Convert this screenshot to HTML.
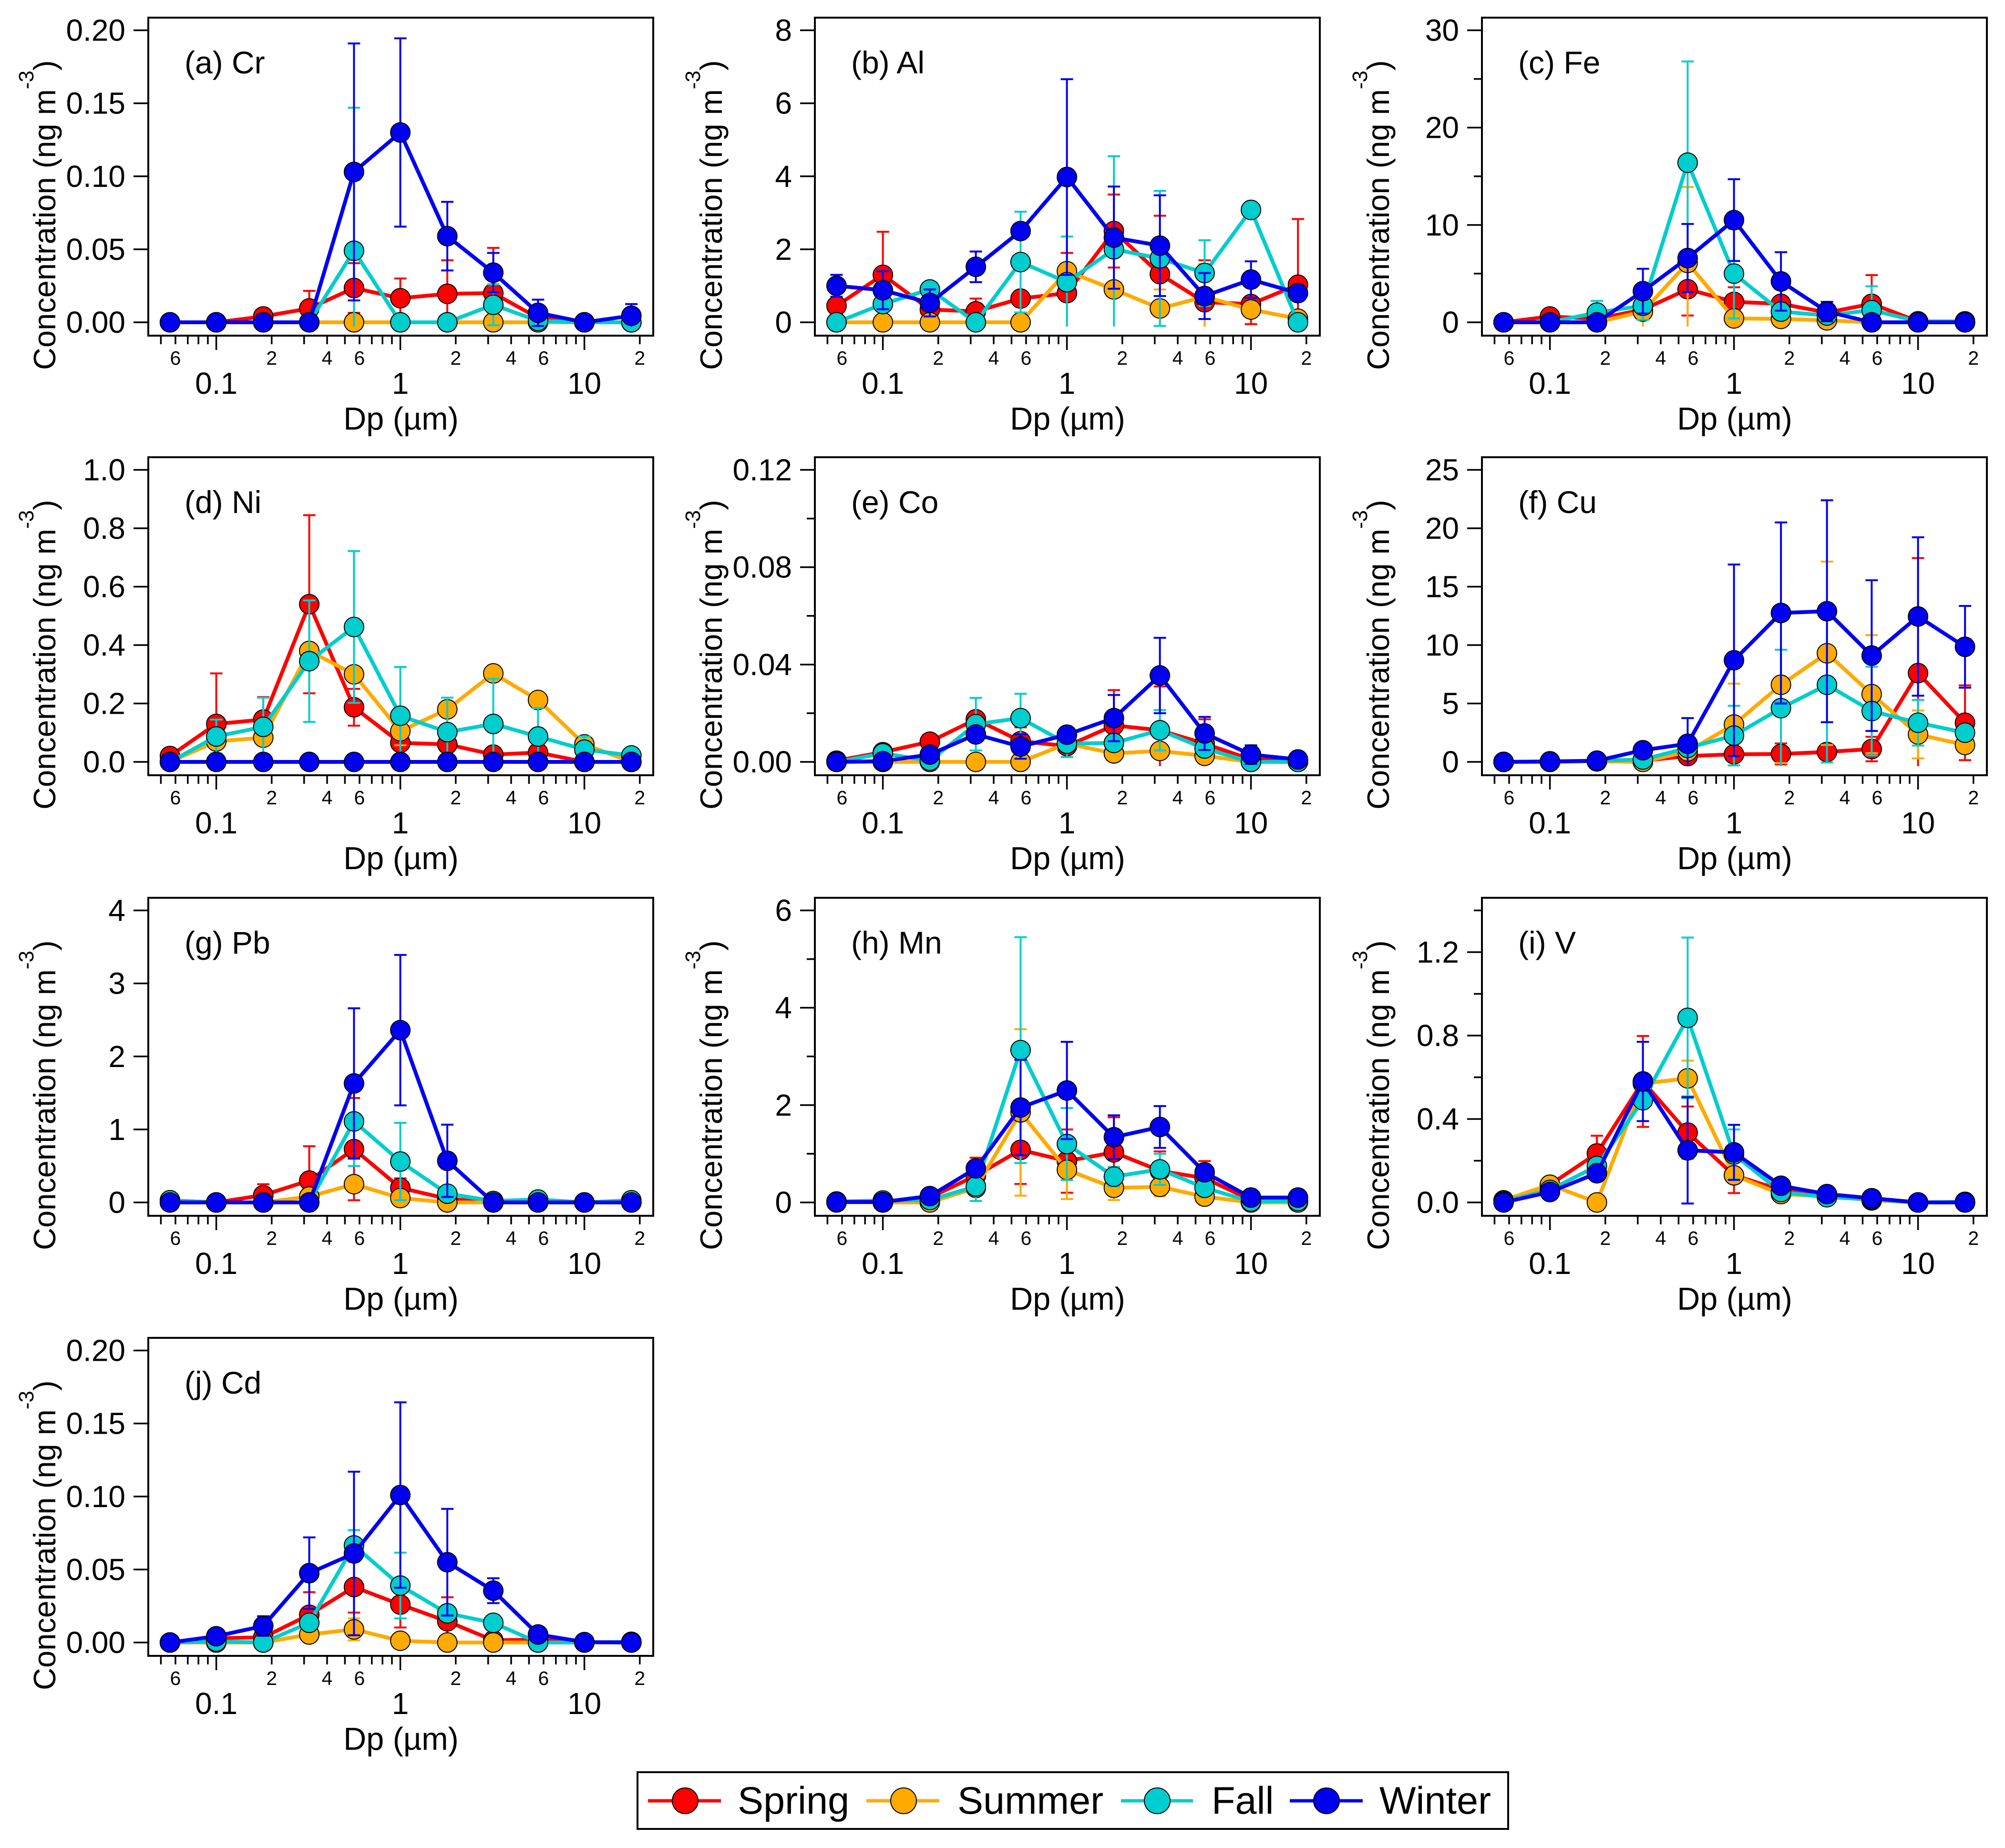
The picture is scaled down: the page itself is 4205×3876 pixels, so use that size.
<!DOCTYPE html>
<html lang="en">
<head>
<meta charset="utf-8">
<title>Size distribution of trace metal concentrations by season</title>
<style>
html,body{margin:0;padding:0;background:#fff;}
svg{display:block;font-family:"Liberation Sans",Arial,sans-serif;}
.ax{font-size:66.5px;fill:#000;}
.pl{font-size:66px;fill:#000;}
.yt{font-size:65px;fill:#000;}
</style>
</head>
<body>
<svg id="chart" width="4205" height="3876" viewBox="0 0 4205 3876" xmlns="http://www.w3.org/2000/svg">
<rect x="0" y="0" width="4205" height="3876" fill="#fff"/>

<g id="panel-cr" transform="translate(311 37)">
<rect x="0" y="0" width="1059" height="667" fill="#fff" stroke="#000" stroke-width="4"/>
<text class="pl" x="76" y="117">(a) Cr</text>
<text class="ax" x="530" y="864" text-anchor="middle">Dp (µm)</text>
<text class="yt" x="-195" y="739" transform="rotate(-90 -195 739)">Concentration (ng m<tspan dy="-46" font-size="44">-3</tspan><tspan dy="46">)</tspan></text>
</g>
<g id="panel-al" transform="translate(1709 37)">
<rect x="0" y="0" width="1059" height="667" fill="#fff" stroke="#000" stroke-width="4"/>
<text class="pl" x="76" y="117">(b) Al</text>
<text class="ax" x="530" y="864" text-anchor="middle">Dp (µm)</text>
<text class="yt" x="-195" y="739" transform="rotate(-90 -195 739)">Concentration (ng m<tspan dy="-46" font-size="44">-3</tspan><tspan dy="46">)</tspan></text>
</g>
<g id="panel-fe" transform="translate(3108 37)">
<rect x="0" y="0" width="1059" height="667" fill="#fff" stroke="#000" stroke-width="4"/>
<text class="pl" x="76" y="117">(c) Fe</text>
<text class="ax" x="530" y="864" text-anchor="middle">Dp (µm)</text>
<text class="yt" x="-195" y="739" transform="rotate(-90 -195 739)">Concentration (ng m<tspan dy="-46" font-size="44">-3</tspan><tspan dy="46">)</tspan></text>
</g>
<g id="panel-ni" transform="translate(311 959)">
<rect x="0" y="0" width="1059" height="667" fill="#fff" stroke="#000" stroke-width="4"/>
<text class="pl" x="76" y="117">(d) Ni</text>
<text class="ax" x="530" y="864" text-anchor="middle">Dp (µm)</text>
<text class="yt" x="-195" y="739" transform="rotate(-90 -195 739)">Concentration (ng m<tspan dy="-46" font-size="44">-3</tspan><tspan dy="46">)</tspan></text>
</g>
<g id="panel-co" transform="translate(1709 959)">
<rect x="0" y="0" width="1059" height="667" fill="#fff" stroke="#000" stroke-width="4"/>
<text class="pl" x="76" y="117">(e) Co</text>
<text class="ax" x="530" y="864" text-anchor="middle">Dp (µm)</text>
<text class="yt" x="-195" y="739" transform="rotate(-90 -195 739)">Concentration (ng m<tspan dy="-46" font-size="44">-3</tspan><tspan dy="46">)</tspan></text>
</g>
<g id="panel-cu" transform="translate(3108 959)">
<rect x="0" y="0" width="1059" height="667" fill="#fff" stroke="#000" stroke-width="4"/>
<text class="pl" x="76" y="117">(f) Cu</text>
<text class="ax" x="530" y="864" text-anchor="middle">Dp (µm)</text>
<text class="yt" x="-195" y="739" transform="rotate(-90 -195 739)">Concentration (ng m<tspan dy="-46" font-size="44">-3</tspan><tspan dy="46">)</tspan></text>
</g>
<g id="panel-pb" transform="translate(311 1883)">
<rect x="0" y="0" width="1059" height="667" fill="#fff" stroke="#000" stroke-width="4"/>
<text class="pl" x="76" y="117">(g) Pb</text>
<text class="ax" x="530" y="864" text-anchor="middle">Dp (µm)</text>
<text class="yt" x="-195" y="739" transform="rotate(-90 -195 739)">Concentration (ng m<tspan dy="-46" font-size="44">-3</tspan><tspan dy="46">)</tspan></text>
</g>
<g id="panel-mn" transform="translate(1709 1883)">
<rect x="0" y="0" width="1059" height="667" fill="#fff" stroke="#000" stroke-width="4"/>
<text class="pl" x="76" y="117">(h) Mn</text>
<text class="ax" x="530" y="864" text-anchor="middle">Dp (µm)</text>
<text class="yt" x="-195" y="739" transform="rotate(-90 -195 739)">Concentration (ng m<tspan dy="-46" font-size="44">-3</tspan><tspan dy="46">)</tspan></text>
</g>
<g id="panel-v" transform="translate(3108 1883)">
<rect x="0" y="0" width="1059" height="667" fill="#fff" stroke="#000" stroke-width="4"/>
<text class="pl" x="76" y="117">(i) V</text>
<text class="ax" x="530" y="864" text-anchor="middle">Dp (µm)</text>
<text class="yt" x="-195" y="739" transform="rotate(-90 -195 739)">Concentration (ng m<tspan dy="-46" font-size="44">-3</tspan><tspan dy="46">)</tspan></text>
</g>
<g id="panel-cd" transform="translate(311 2806)">
<rect x="0" y="0" width="1059" height="667" fill="#fff" stroke="#000" stroke-width="4"/>
<text class="pl" x="76" y="117">(j) Cd</text>
<text class="ax" x="530" y="864" text-anchor="middle">Dp (µm)</text>
<text class="yt" x="-195" y="739" transform="rotate(-90 -195 739)">Concentration (ng m<tspan dy="-46" font-size="44">-3</tspan><tspan dy="46">)</tspan></text>
</g>

<g>
<rect x="1337" y="3717" width="1826" height="119" fill="#fff" stroke="#000" stroke-width="4"/>
<g>
<line x1="1359" y1="3777" x2="1512" y2="3777" stroke="#ff0000" stroke-width="7"/>
<circle cx="1437" cy="3777" r="27" fill="#ff0000" stroke="#000" stroke-width="2"/>
<text x="1547" y="3804" font-size="81" fill="#000">Spring</text>
</g>
<g>
<line x1="1817" y1="3777" x2="1970" y2="3777" stroke="#ffaa00" stroke-width="7"/>
<circle cx="1895" cy="3777" r="27" fill="#ffaa00" stroke="#000" stroke-width="2"/>
<text x="2008" y="3804" font-size="81" fill="#000">Summer</text>
</g>
<g>
<line x1="2351" y1="3777" x2="2502" y2="3777" stroke="#00cdcd" stroke-width="7"/>
<circle cx="2427" cy="3777" r="27" fill="#00cdcd" stroke="#000" stroke-width="2"/>
<text x="2541" y="3804" font-size="81" fill="#000">Fall</text>
</g>
<g>
<line x1="2705" y1="3777" x2="2858" y2="3777" stroke="#0000f0" stroke-width="7"/>
<circle cx="2782" cy="3777" r="27" fill="#0000f0" stroke="#000" stroke-width="2"/>
<text x="2893" y="3804" font-size="81" fill="#000">Winter</text>
</g>
</g>
</svg>

<script>
// Shared x categories (aerodynamic cut sizes, µm)
const dpCategories = [0.056, 0.1, 0.18, 0.32, 0.56, 1, 1.8, 3.2, 5.6, 10, 18];
const xMinorTicks = [0.05,0.06,0.07,0.08,0.09,0.2,0.3,0.4,0.5,0.6,0.7,0.8,0.9,2,3,4,5,6,7,8,9,20];
const xMajorTicks = [0.1, 1, 10];
const xMajorLabels = ['0.1', '1', '10'];
const xSmallLabelTicks = [0.06, 0.2, 0.4, 0.6, 2, 4, 6, 20];
const xSmallLabels = ['6', '2', '4', '6', '2', '4', '6', '2'];

// (a) Cr
const crTickLabels = ['0.00','0.05','0.10','0.15','0.20'];
const crMinor = [];
const crSpring = [0,0,0.004,0.0095,0.0235,0.0165,0.0195,0.02,0.003,0,0];
const crSpringErr = [0,0,0,0.012,0.017,0.0135,0.023,0.031,0,0,0];
const crSummer = [0,0,0,0,0,0,0,0,0,0,0];
const crSummerErr = [0,0,0,0,0,0,0,0,0,0,0];
const crFall = [0,0,0,0,0.049,0,0,0.012,0.001,0,0];
const crFallErr = [0,0,0,0,0.098,0,0,0.014,0,0,0];
const crWinter = [0,0,0,0,0.103,0.13,0.059,0.034,0.0065,0,0.0045];
const crWinterErr = [0,0,0,0,0.088,0.0645,0.0235,0.0135,0.009,0,0.008];

// (b) Al
const alTickLabels = ['0','2','4','6','8'];
const alMinor = [];
const alSpring = [0.45,1.3,0.35,0.3,0.65,0.8,2.5,1.32,0.55,0.5,1.03];
const alSpringErr = [0,1.18,0.75,0.35,0,1.1,1.0,1.6,1.15,0.55,1.8];
const alSummer = [0,0,0,0,0,1.4,0.9,0.38,0.7,0.35,0.1];
const alSummerErr = [0,0,0,0,0,0,0,0.52,0.9,0,0];
const alFall = [0,0.5,0.9,0,1.65,1.1,2,1.75,1.35,3.08,0];
const alFallErr = [0,0,0.1,0,1.38,1.25,2.55,1.85,0.9,0,0];
const alWinter = [1,0.88,0.53,1.52,2.5,3.98,2.32,2.1,0.72,1.17,0.8];
const alWinterErr = [0.3,0.52,0.37,0.42,0,2.68,1.4,1.38,0.63,0.5,0];

// (c) Fe
const feTickLabels = ['0','10','20','30'];
const feMinor = [5,15,25];
const feSpring = [0,0.6,0.35,1.3,3.4,2.1,1.9,1,1.9,0.1,0];
const feSpringErr = [0,0.4,0,0,2.7,1.5,0,0,2.95,0,0];
const feSummer = [0,0,0,1.1,6.1,0.4,0.35,0.2,0,0,0];
const feSummerErr = [0,0,0,1.6,7.8,0,0,0,0,0,0];
const feFall = [0,0,1,1.7,16.4,5,1.1,0.7,1.25,0.1,0.1];
const feFallErr = [0,0,1.2,1.45,10.4,4.6,0,0,2.45,0,0];
const feWinter = [0,0,0,3.2,6.6,10.5,4.2,1.1,0,0,0];
const feWinterErr = [0,0,0,2.3,3.5,4.2,3,1,0,0,0];

// (d) Ni
const niTickLabels = ['0.0','0.2','0.4','0.6','0.8','1.0'];
const niMinor = [];
const niSpring = [0.02,0.13,0.145,0.54,0.187,0.065,0.06,0.025,0.032,0,0];
const niSpringErr = [0,0.173,0.077,0.305,0.063,0,0,0,0,0,0];
const niSummer = [0,0.07,0.083,0.38,0.3,0.105,0.18,0.303,0.212,0.06,0];
const niSummerErr = [0,0,0,0,0,0.048,0,0,0,0,0];
const niFall = [0,0.087,0.12,0.345,0.462,0.158,0.102,0.13,0.087,0.042,0.022];
const niFallErr = [0,0.058,0.1,0.208,0.26,0.167,0.118,0.155,0.097,0.045,0];
const niWinter = [0,0,0,0,0,0,0,0,0,0,0];
const niWinterErr = [0,0,0,0,0,0,0,0,0,0,0];

// (e) Co
const coTickLabels = ['0.00','0.04','0.08','0.12'];
const coMinor = [0.02,0.06,0.1];
const coSpring = [0.0005,0.004,0.0083,0.0175,0.0085,0.0065,0.015,0.013,0.0075,0.001,0.0005];
const coSpringErr = [0,0,0,0,0.0057,0.0045,0.0145,0.018,0.01,0,0];
const coSummer = [0,0,0,0,0,0.0075,0.0035,0.0045,0.0025,0,0];
const coSummerErr = [0,0,0,0,0,0,0,0,0,0,0];
const coFall = [0,0.0035,0.0005,0.0155,0.018,0.0075,0.0078,0.013,0.0055,0,0];
const coFallErr = [0,0,0,0.0108,0.01,0.0055,0,0.0083,0,0,0];
const coWinter = [0,0.0003,0.003,0.0113,0.0063,0.0112,0.018,0.0355,0.0117,0.003,0.001];
const coWinterErr = [0,0,0,0,0.005,0,0.0095,0.0155,0.0068,0.0038,0];

// (f) Cu
const cuTickLabels = ['0','5','10','15','20','25'];
const cuMinor = [];
const cuSpring = [0,0,0.05,0.1,0.5,0.65,0.68,0.85,1.1,7.6,3.35];
const cuSpringErr = [0,0,0,0,0,0,0.9,0.65,1.05,9.85,3.2];
const cuSummer = [0,0,0.05,0,0.9,3.2,6.6,9.3,5.8,2.35,1.45];
const cuSummerErr = [0,0,0,0,0,3.5,6.7,7.85,5.05,2.05,0];
const cuFall = [0,0.05,0.1,0.2,1.2,2.25,4.6,6.6,4.35,3.35,2.5];
const cuFallErr = [0,0,0,0,0,2.55,5,6.65,3.8,1.95,0];
const cuWinter = [0,0.03,0.1,1,1.55,8.7,12.75,12.9,9.1,12.45,9.85];
const cuWinterErr = [0,0,0,0,2.2,8.2,7.75,9.5,6.45,6.78,3.5];

// (g) Pb
const pbTickLabels = ['0','1','2','3','4'];
const pbMinor = [];
const pbSpring = [0.03,0,0.1,0.3,0.73,0.2,0.05,0,0,0,0];
const pbSpringErr = [0,0,0.15,0.47,0.7,0.13,0,0,0,0,0];
const pbSummer = [0,0,0,0.08,0.25,0.06,0,0,0,0,0];
const pbSummerErr = [0,0,0,0,0,0,0,0,0,0,0];
const pbFall = [0.03,0,0,0,1.11,0.56,0.12,0.02,0.04,0,0.03];
const pbFallErr = [0,0,0,0,0.61,0.53,0,0,0,0,0];
const pbWinter = [0,0,0,0,1.63,2.36,0.57,0,0,0,0];
const pbWinterErr = [0,0,0,0,1.03,1.03,0.495,0,0,0,0];

// (h) Mn
const mnTickLabels = ['0','2','4','6'];
const mnMinor = [1,3,5];
const mnSpring = [0.01,0,0.1,0.55,1.08,0.85,1.03,0.65,0.5,0.05,0.03];
const mnSpringErr = [0,0,0,0.37,0.7,0.65,0.72,0.4,0.35,0,0];
const mnSummer = [0,0,0,0.3,1.85,0.67,0.3,0.32,0.12,0,0];
const mnSummerErr = [0,0,0,0,1.71,0.6,0.25,0.19,0,0,0];
const mnFall = [0.02,0.04,0.05,0.33,3.13,1.2,0.53,0.68,0.3,0.02,0.03];
const mnFallErr = [0,0,0,0.3,2.32,0.74,0.2,0.32,0,0,0];
const mnWinter = [0.01,0.01,0.13,0.7,1.95,2.3,1.34,1.55,0.62,0.1,0.1];
const mnWinterErr = [0,0,0,0,0.98,1,0.45,0.43,0,0,0];

// (i) V
const vTickLabels = ['0.0','0.4','0.8','1.2'];
const vMinor = [0.2,0.6,1.0,1.4];
const vSpring = [0.01,0.085,0.235,0.58,0.335,0.13,0.06,0.03,0.02,0,0];
const vSpringErr = [0,0,0.085,0.218,0.125,0.085,0,0,0,0,0];
const vSummer = [0.01,0.085,0,0.57,0.595,0.13,0.04,0.03,0.01,0,0];
const vSummerErr = [0,0,0,0,0.085,0,0,0,0,0,0];
const vFall = [0.005,0.06,0.175,0.49,0.885,0.23,0.05,0.025,0.015,0,0.003];
const vFallErr = [0,0,0,0,0.385,0.12,0,0,0,0,0];
const vWinter = [0,0.05,0.14,0.58,0.25,0.24,0.08,0.04,0.02,0,0];
const vWinterErr = [0,0,0,0.19,0.255,0.132,0,0,0,0,0];

// (j) Cd
const cdTickLabels = ['0.00','0.05','0.10','0.15','0.20'];
const cdMinor = [];
const cdSpring = [0,0.003,0.0035,0.019,0.038,0.026,0.0145,0.0015,0.002,0,0];
const cdSpringErr = [0,0,0,0.0155,0.0175,0.0157,0.0165,0,0,0,0];
const cdSummer = [0,0,0,0.0055,0.009,0.0012,0,0,0,0,0];
const cdSummerErr = [0,0,0,0,0.0075,0,0,0,0,0,0];
const cdFall = [0,0.0007,0,0.0135,0.0665,0.039,0.02,0.0135,0,0,0.0005];
const cdFallErr = [0,0,0,0,0.0105,0.0225,0,0,0,0,0];
const cdWinter = [0,0.0043,0.0113,0.0475,0.061,0.101,0.055,0.0355,0.0055,0.0003,0];
const cdWinterErr = [0,0,0.0067,0.0245,0.056,0.0635,0.0365,0.0085,0,0,0];

const seasonNames = ['spring','summer','fall','winter'];

const charts = [
  {id:'panel-cr', ticks:crTickLabels, minor:crMinor, series:[[crSpring,crSpringErr],[crSummer,crSummerErr],[crFall,crFallErr],[crWinter,crWinterErr]]},
  {id:'panel-al', ticks:alTickLabels, minor:alMinor, series:[[alSpring,alSpringErr],[alSummer,alSummerErr],[alFall,alFallErr],[alWinter,alWinterErr]]},
  {id:'panel-fe', ticks:feTickLabels, minor:feMinor, series:[[feSpring,feSpringErr],[feSummer,feSummerErr],[feFall,feFallErr],[feWinter,feWinterErr]]},
  {id:'panel-ni', ticks:niTickLabels, minor:niMinor, series:[[niSpring,niSpringErr],[niSummer,niSummerErr],[niFall,niFallErr],[niWinter,niWinterErr]]},
  {id:'panel-co', ticks:coTickLabels, minor:coMinor, series:[[coSpring,coSpringErr],[coSummer,coSummerErr],[coFall,coFallErr],[coWinter,coWinterErr]]},
  {id:'panel-cu', ticks:cuTickLabels, minor:cuMinor, series:[[cuSpring,cuSpringErr],[cuSummer,cuSummerErr],[cuFall,cuFallErr],[cuWinter,cuWinterErr]]},
  {id:'panel-pb', ticks:pbTickLabels, minor:pbMinor, series:[[pbSpring,pbSpringErr],[pbSummer,pbSummerErr],[pbFall,pbFallErr],[pbWinter,pbWinterErr]]},
  {id:'panel-mn', ticks:mnTickLabels, minor:mnMinor, series:[[mnSpring,mnSpringErr],[mnSummer,mnSummerErr],[mnFall,mnFallErr],[mnWinter,mnWinterErr]]},
  {id:'panel-v',  ticks:vTickLabels,  minor:vMinor,  top:1.4, series:[[vSpring,vSpringErr],[vSummer,vSummerErr],[vFall,vFallErr],[vWinter,vWinterErr]]},
  {id:'panel-cd', ticks:cdTickLabels, minor:cdMinor, series:[[cdSpring,cdSpringErr],[cdSummer,cdSummerErr],[cdFall,cdFallErr],[cdWinter,cdWinterErr]]}
];

const SVG_NS = 'http://www.w3.org/2000/svg';
const seasonColors = ['#ff0000','#ffaa00','#00cdcd','#0000f0'];
const PLOT_H = 667, Y_ZERO = 639, Y_SPAN = 612.5, CLIP_BELOW = 9;
const X_TENTH = 142.6, X_DECADE = 386;

function xScale(d){ return X_TENTH + (Math.log10(d) + 1) * X_DECADE; }
function makeYScale(top){ return function(v){ return Y_ZERO - v / top * Y_SPAN; }; }
function make(tag, parent, attrs, text){
  const el = document.createElementNS(SVG_NS, tag);
  for (const k in attrs) el.setAttribute(k, attrs[k]);
  if (text !== undefined) el.textContent = text;
  parent.appendChild(el);
  return el;
}

charts.forEach(function(cfg){
  const panel = document.getElementById(cfg.id);
  const tickVals = cfg.ticks.map(Number);
  const top = cfg.top !== undefined ? cfg.top : tickVals[tickVals.length - 1];
  const yScale = makeYScale(top);

  // x axis
  xMinorTicks.forEach(function(d){
    const t = make('line', panel, {x1:xScale(d), x2:xScale(d), y1:PLOT_H, y2:PLOT_H + 18, stroke:'#000', 'stroke-width':3.5});
    
    
  });
  xMajorTicks.forEach(function(d, i){
    const t = make('line', panel, {x1:xScale(d), x2:xScale(d), y1:PLOT_H, y2:PLOT_H + 30, stroke:'#000', 'stroke-width':3.5});
    
    
    const lb = make('text', panel, {x:xScale(d), y:PLOT_H + 122, 'text-anchor':'middle', 'font-size':64, fill:'#000'}, xMajorLabels[i]);
    
    
  });
  xSmallLabelTicks.forEach(function(d, i){
    const lb = make('text', panel, {x:xScale(d), y:PLOT_H + 61, 'text-anchor':'middle', 'font-size':41, fill:'#000'}, xSmallLabels[i]);
    
    
  });

  // y axis
  tickVals.forEach(function(v, i){
    const t = make('line', panel, {x1:-31, x2:0, y1:yScale(v), y2:yScale(v), stroke:'#000', 'stroke-width':3.5});
    
    
    const lb = make('text', panel, {x:-48, y:yScale(v) + 22, 'text-anchor':'end', 'font-size':64, fill:'#000'}, cfg.ticks[i]);
    
    
  });
  cfg.minor.forEach(function(v){
    const t = make('line', panel, {x1:-17, x2:0, y1:yScale(v), y2:yScale(v), stroke:'#000', 'stroke-width':3.5});
    
    
  });

  // series
  cfg.series.forEach(function(pair, s){
    const values = pair[0], errs = pair[1], color = seasonColors[s];
    const group = make('g', panel, {});
    
    

    const pts = values.map(function(v, i){ return xScale(dpCategories[i]) + ',' + yScale(v); }).join(' ');
    const line = make('polyline', group, {points:pts, fill:'none', stroke:color, 'stroke-width':8, 'stroke-linejoin':'round'});
    
    

    values.forEach(function(v, i){
      const e = errs[i];
      if (!(e > 0)) return;
      const x = xScale(dpCategories[i]);
      const yUp = yScale(v + e);
      const yRaw = yScale(v - e);
      const clipped = yRaw > Y_ZERO + CLIP_BELOW;
      const yLow = clipped ? Y_ZERO + CLIP_BELOW : yRaw;
      const bar = make('line', group, {x1:x, x2:x, y1:yUp, y2:yLow, stroke:color, 'stroke-width':4});
      
      
      const capU = make('line', group, {x1:x - 13, x2:x + 13, y1:yUp, y2:yUp, stroke:color, 'stroke-width':4});
      
      
      if (!clipped) {
        const capL = make('line', group, {x1:x - 13, x2:x + 13, y1:yLow, y2:yLow, stroke:color, 'stroke-width':4});
        
        
      }
    });

    values.forEach(function(v, i){
      const c = make('circle', group, {cx:xScale(dpCategories[i]), cy:yScale(v), r:20.5, fill:color, stroke:'#000', 'stroke-width':2});
      
      
    });
  });
});
</script>
</body>
</html>
